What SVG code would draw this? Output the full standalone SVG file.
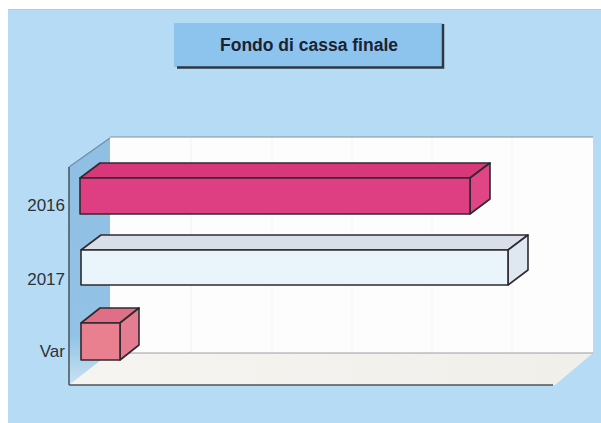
<svg xmlns="http://www.w3.org/2000/svg" width="601" height="423" viewBox="0 0 601 423">
<defs>
<style>
.lbl{font-family:"Liberation Sans",Arial,sans-serif;font-size:17px;fill:#2e3136;text-anchor:end}
.title{font-family:"Liberation Sans",Arial,sans-serif;font-size:17.5px;font-weight:bold;fill:#1c2230;text-anchor:middle}
.edge{stroke:#2f2a30;stroke-width:1.6;stroke-linejoin:round}
.grid{stroke:#f2f3f4;stroke-width:1}
</style>
<linearGradient id="wallG" x1="0" y1="0" x2="0" y2="1">
<stop offset="0" stop-color="#8fc0e4"/>
<stop offset="0.8" stop-color="#92c3e6"/>
<stop offset="1" stop-color="#c9e2f2"/>
</linearGradient>
<linearGradient id="floorG" x1="0" y1="0" x2="1" y2="0">
<stop offset="0" stop-color="#f6f4f0"/>
<stop offset="1" stop-color="#f1efea"/>
</linearGradient>
</defs>
<rect x="0" y="0" width="601" height="423" fill="#ffffff"/>
<rect x="8" y="9" width="593" height="414" fill="#b6dbf4"/>
<line x1="8" y1="9.5" x2="601" y2="9.5" stroke="#a9cfe9" stroke-width="1"/>

<g id="title">
<rect x="174" y="23" width="269" height="44" fill="#8dc4ee"/>
<polyline points="443,24 443,67.5 177,67.5" fill="none" stroke="#2f3640" stroke-width="2.5"/>
<text class="title" x="309" y="50.5">Fondo di cassa finale</text>
</g>

<g id="chart-frame">
<rect x="110" y="137" width="483" height="216" fill="#fdfdfd"/>
<g class="grid">
<line x1="191" y1="138" x2="191" y2="353"/>
<line x1="272" y1="138" x2="272" y2="353"/>
<line x1="352" y1="138" x2="352" y2="353"/>
<line x1="432" y1="138" x2="432" y2="353"/>
<line x1="512" y1="138" x2="512" y2="353"/>
</g>
<line x1="110" y1="137" x2="593" y2="137" stroke="#8a9096" stroke-width="1.2"/>
<polygon points="69,167 110,138 110,353 69,385" fill="url(#wallG)"/>
<polygon points="69,385 110,353 593,353 555,385" fill="url(#floorG)"/>
<line x1="110" y1="353" x2="593" y2="353" stroke="#9a9ea2" stroke-width="1.2"/>
<line x1="69" y1="167" x2="110" y2="138" stroke="#6e8ea8" stroke-width="1.2"/>
<line x1="69" y1="167" x2="69" y2="385" stroke="#4d5a66" stroke-width="1.6"/>
<line x1="69" y1="385" x2="553" y2="385" stroke="#50555a" stroke-width="1.6"/>
</g>

<g id="bar-2016">
<polygon class="edge" points="80,178 100,163 490,163 470,178" fill="#d8387a"/>
<polygon class="edge" points="470,178 490,163 490,199 470,214" fill="#e04585"/>
<rect class="edge" x="80" y="178" width="390" height="36" fill="#de3f82"/>
</g>

<g id="bar-2017">
<polygon class="edge" points="81,250 101,235 528,235 508,250" fill="#d9dfe9"/>
<polygon class="edge" points="508,250 528,235 528,270 508,285" fill="#dfe7f0"/>
<rect class="edge" x="81" y="250" width="427" height="35" fill="#eaf5fb"/>
</g>

<g id="bar-var">
<polygon class="edge" points="81,323 100,308 139,308 120,323" fill="#df6f86"/>
<polygon class="edge" points="120,323 139,308 139,345 120,360" fill="#e47c92"/>
<rect class="edge" x="81" y="323" width="39" height="37" fill="#e8808f"/>
</g>

<g id="labels">
<text class="lbl" x="65" y="211">2016</text>
<text class="lbl" x="65" y="285">2017</text>
<text class="lbl" x="65" y="357">Var</text>
</g>
</svg>
